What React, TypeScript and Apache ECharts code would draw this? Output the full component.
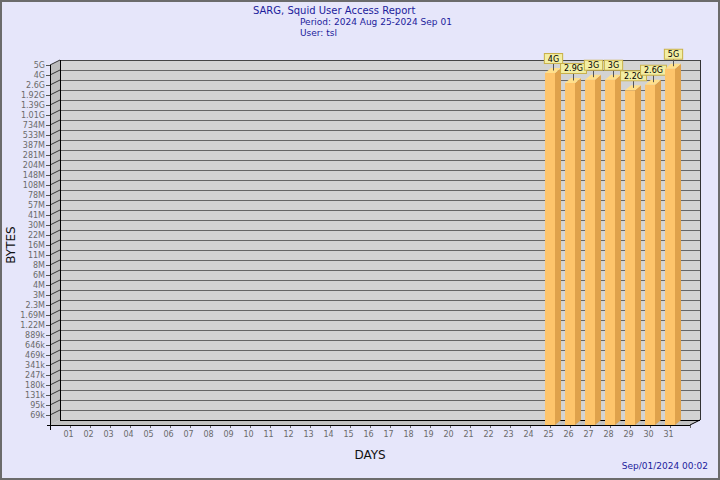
import React, { useEffect, useRef } from "react";
import * as echarts from "echarts";

// ---- data ----
const barDays = [25, 26, 27, 28, 29, 30, 31];
const barBytes = [3.86e9, 2.81e9, 3.12e9, 3.12e9, 2.22e9, 2.66e9, 4.43e9];
const barLabels = ["4G", "2.9G", "3G", "3G", "2.2G", "2.6G", "5G"];
const yTickLabels = [
  "69k", "95k", "131k", "180k", "247k", "341k", "469k", "646k", "889k",
  "1.22M", "1.69M", "2.3M", "3M", "4M", "6M", "8M", "11M", "16M", "22M", "30M",
  "41M", "57M", "78M", "108M", "148M", "204M", "281M", "387M", "533M", "734M",
  "1.01G", "1.39G", "1.92G", "2.6G", "4G", "5G",
];
const firstDay = 1;
const lastDay = 31;
const titleText = "SARG, Squid User Access Report";
const periodText = "Period: 2024 Aug 25-2024 Sep 01";
const userText = "User: tsl";
const stampText = "Sep/01/2024 00:02";

// log-like scale of the y axis: each tick is ~1.3767x the previous one
const Y_FIRST_TICK = 69e3;
const Y_RATIO = 1.3767;
const Y_STEPS = yTickLabels.length;
const toStep = (v: number) => 1 + Math.log(v / Y_FIRST_TICK) / Math.log(Y_RATIO);

const X_MIN = 0;
const X_MAX = lastDay + 1;

const WALL_DX = 10;
const WALL_DY = -5;

const FONT = "DejaVu Sans";

export default function App() {
  const ref = useRef<HTMLDivElement>(null);
  useEffect(() => {
    if (!ref.current) return;
    const chart = echarts.init(ref.current, undefined, { renderer: "svg" });
    const px = (v: number) => Math.round(v) + 0.5;

    const frameItem = (_params: any, api: any) => {
      const [x0, yb] = api.coord([X_MIN, 0]);
      const [x1, yt] = api.coord([X_MAX, Y_STEPS]);
      const children: any[] = [];
      children.push({
        type: "rect",
        shape: { x: x0 + WALL_DX, y: yt + WALL_DY, width: x1 - x0, height: yb - yt },
        style: { fill: "#d3d3d3" },
      });
      children.push({
        type: "polygon",
        shape: { points: [[x0, yt], [x0 + WALL_DX, yt + WALL_DY], [x0 + WALL_DX, yb + WALL_DY], [x0, yb]] },
        style: { fill: "#bdbdbd" },
      });
      children.push({
        type: "polygon",
        shape: { points: [[x0, yb], [x0 + WALL_DX, yb + WALL_DY], [x1 + WALL_DX, yb + WALL_DY], [x1, yb]] },
        style: { fill: "#c2c2c2" },
      });
      for (let k = 1; k <= Y_STEPS; k++) {
        const y = api.coord([X_MIN, k])[1];
        children.push({
          type: "line",
          shape: { x1: x0 + WALL_DX, y1: px(y + WALL_DY), x2: x1 + WALL_DX, y2: px(y + WALL_DY) },
          style: { stroke: k === Y_STEPS ? "#444" : "#666", lineWidth: 1 },
        });
        children.push({
          type: "line",
          shape: { x1: x0 - 4, y1: px(y), x2: x0, y2: px(y) },
          style: { stroke: "#555", lineWidth: 1 },
        });
        children.push({
          type: "line",
          shape: { x1: x0, y1: y, x2: x0 + WALL_DX, y2: y + WALL_DY },
          style: { stroke: "#333", lineWidth: 1 },
        });
      }
      // edges
      children.push({
        type: "line",
        shape: { x1: px(x0 + WALL_DX), y1: yt + WALL_DY, x2: px(x0 + WALL_DX), y2: yb + WALL_DY },
        style: { stroke: "#000", lineWidth: 1 },
      });
      children.push({
        type: "line",
        shape: { x1: px(x1 + WALL_DX), y1: yt + WALL_DY, x2: px(x1 + WALL_DX), y2: yb + WALL_DY },
        style: { stroke: "#333", lineWidth: 1 },
      });
      children.push({
        type: "line",
        shape: { x1: x0 + WALL_DX, y1: px(yb + WALL_DY), x2: x1 + WALL_DX, y2: px(yb + WALL_DY) },
        style: { stroke: "#000", lineWidth: 1 },
      });
      children.push({
        type: "line",
        shape: { x1: x1, y1: yb, x2: x1 + WALL_DX, y2: yb + WALL_DY },
        style: { stroke: "#000", lineWidth: 1 },
      });
      children.push({
        type: "line",
        shape: { x1: x0 - 3, y1: px(yb), x2: x1, y2: px(yb) },
        style: { stroke: "#000", lineWidth: 1 },
      });
      children.push({
        type: "line",
        shape: { x1: px(x0), y1: yt, x2: px(x0), y2: yb + 5 },
        style: { stroke: "#000", lineWidth: 1 },
      });
      return { type: "group", children };
    };

    const barItem = (params: any, api: any) => {
      const day = api.value(0);
      const step = api.value(1);
      const [cx, top] = api.coord([day, step]);
      const base = api.coord([day, 0])[1];
      const band = api.size([1, 0])[0];
      const hw = band * 0.25;
      const bdx = band * 0.3;
      const bdy = -5;
      const lx = Math.round(cx + bdx / 2) + 0.5;
      return {
        type: "group",
        children: [
          {
            type: "polygon",
            shape: { points: [[cx + hw, top], [cx + hw + bdx, top + bdy], [cx + hw + bdx, base + bdy], [cx + hw, base]] },
            style: { fill: "#dfa24c" },
          },
          {
            type: "polygon",
            shape: { points: [[cx - hw, top], [cx - hw + bdx, top + bdy], [cx + hw + bdx, top + bdy], [cx + hw, top]] },
            style: { fill: "#ffe08c" },
          },
          {
            type: "rect",
            shape: { x: cx - hw, y: top, width: hw * 2, height: base - top },
            style: { fill: "#fec56c" },
          },
          {
            type: "line",
            shape: { x1: lx, y1: top - 10, x2: lx, y2: top + bdy / 2 },
            style: { stroke: "#555", lineWidth: 1 },
          },
          {
            type: "text",
            style: {
              text: barLabels[params.dataIndex],
              x: lx,
              y: top - 10,
              align: "center",
              verticalAlign: "bottom",
              font: `8px "${FONT}"`,
              fill: "#000",
              backgroundColor: "#f2eea4",
              borderColor: "#c9b04a",
              borderWidth: 1,
              padding: [1, 3, 0, 3],
            },
          },
        ],
      };
    };

    chart.setOption({
      animation: false,
      backgroundColor: "#e6e6fa",
      textStyle: { fontFamily: FONT },
      grid: { left: 50, right: 30, top: 65, bottom: 55, containLabel: false, outerBoundsMode: "none" },
      xAxis: {
        type: "value",
        min: X_MIN,
        max: X_MAX,
        interval: 1,
        name: "DAYS",
        nameLocation: "middle",
        nameGap: 24,
        nameTextStyle: { fontSize: 12, color: "#111", fontFamily: FONT },
        axisLine: { show: false },
        axisTick: { length: 3, lineStyle: { color: "#666" } },
        axisLabel: {
          fontSize: 8,
          color: "#6a6a6a",
          margin: 5,
          padding: [0, 3, 0, 0],
          formatter: (v: number) => (v >= firstDay && v <= lastDay ? String(v).padStart(2, "0") : ""),
        },
        splitLine: { show: false },
      },
      yAxis: {
        type: "value",
        min: 0,
        max: Y_STEPS,
        interval: 1,
        name: "BYTES",
        nameLocation: "middle",
        nameRotate: 90,
        nameGap: 33,
        nameMoveOverlap: false,
        nameTextStyle: { fontSize: 12, color: "#111", fontFamily: FONT },
        axisLine: { show: false },
        axisTick: { show: false },
        axisLabel: {
          fontSize: 8,
          color: "#6a6a6a",
          margin: 5,
          formatter: (v: number) => (v >= 1 ? yTickLabels[Math.round(v) - 1] ?? "" : ""),
        },
        splitLine: { show: false },
      },
      series: [
        {
          type: "custom",
          name: "frame",
          z: 1,
          silent: true,
          renderItem: frameItem,
          data: [[0, 0]],
        },
        {
          type: "custom",
          name: "bytes",
          z: 3,
          renderItem: barItem,
          data: barDays.map((d, i) => [d, toStep(barBytes[i])]),
        },
      ],
      graphic: [
        {
          type: "text",
          x: 253,
          y: 5,
          style: { text: titleText, font: `10px "${FONT}"`, fill: "#1c1c9c" },
        },
        {
          type: "text",
          x: 300,
          y: 17,
          style: { text: periodText, font: `9px "${FONT}"`, fill: "#1c1c9c" },
        },
        {
          type: "text",
          x: 300,
          y: 28,
          style: { text: userText, font: `9px "${FONT}"`, fill: "#1c1c9c" },
        },
        {
          type: "text",
          right: 12,
          top: 461,
          style: { text: stampText, font: `9px "${FONT}"`, fill: "#1c1c9c" },
        },
        {
          type: "rect",
          shape: { x: 1, y: 1, width: 718, height: 478 },
          style: { fill: "none", stroke: "#6b6b6b", lineWidth: 2 },
          z: 100,
        },
      ],
    });
    return () => chart.dispose();
  }, []);
  return (
    <div
      ref={ref}
      style={{ position: "absolute", left: 0, top: 0, width: 720, height: 480 }}
    />
  );
}
